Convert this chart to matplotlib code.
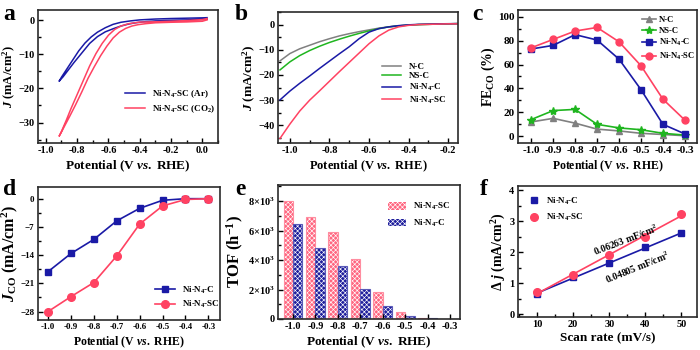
import numpy as np
import matplotlib.pyplot as plt
from matplotlib.ticker import MultipleLocator, FixedLocator

plt.rcParams.update({
    "font.family": "Liberation Serif",
    "font.weight": "bold",
    "axes.labelweight": "bold",
    "mathtext.fontset": "custom",
    "mathtext.rm": "Liberation Serif:bold",
    "mathtext.bf": "Liberation Serif:bold",
    "mathtext.it": "Liberation Serif:italic:bold",
    "mathtext.default": "rm",
    "hatch.linewidth": 0.45,
})

BLUE = "#1a1aa6"
RED = "#ff4262"
GRAY = "#808080"
GREEN = "#1fb51f"

# ---- a: CV loops (Ar / CO2) ----
ar_v = [0.03, 0.0, -0.1, -0.2, -0.3, -0.36, -0.42, -0.47, -0.52, -0.57, -0.62, -0.67, -0.72,
        -0.77, -0.82, -0.86, -0.89, -0.91, -0.915, -0.9, -0.87, -0.83, -0.79, -0.75, -0.71,
        -0.67, -0.62, -0.57, -0.52, -0.46, -0.4, -0.3, -0.2, -0.1, 0.0, 0.03]
ar_j = [0.3, 0.25, 0.1, -0.05, -0.2, -0.4, -0.7, -1.1, -1.7, -2.5, -3.4, -4.8, -6.8,
        -9.6, -12.4, -14.8, -16.6, -17.6, -17.9, -16.7, -14.6, -11.8, -9.0, -6.7, -4.9,
        -3.5, -2.2, -1.2, -0.6, -0.2, 0.1, 0.35, 0.5, 0.6, 0.7, 0.75]
co2_v = [0.03, 0.0, -0.1, -0.2, -0.3, -0.36, -0.41, -0.45, -0.49, -0.53, -0.57, -0.61, -0.65,
         -0.69, -0.73, -0.77, -0.81, -0.85, -0.88, -0.905, -0.915, -0.9, -0.87, -0.84, -0.8,
         -0.76, -0.72, -0.68, -0.64, -0.6, -0.56, -0.52, -0.47, -0.4, -0.3, -0.2, -0.1, 0.0, 0.03]
co2_j = [0.1, -0.3, -0.5, -0.6, -0.75, -1.0, -1.3, -1.7, -2.4, -3.5, -5.2, -7.6, -10.4,
         -13.6, -17.0, -21.0, -24.8, -28.4, -31.0, -33.2, -34.0, -32.6, -29.4, -26.0, -21.8,
         -17.6, -13.4, -9.8, -6.8, -4.4, -2.7, -1.7, -1.0, -0.55, -0.45, -0.3, -0.1, 0.2, 0.5]

# ---- b: LSV ----
lsv_v = [-1.05, -1.0, -0.95, -0.9, -0.85, -0.8, -0.75, -0.7, -0.65, -0.6, -0.55, -0.5,
         -0.45, -0.4, -0.35, -0.3, -0.25, -0.2, -0.15]
lsv_nc = [-14.4, -11.5, -9.6, -8.2, -6.8, -5.6, -4.5, -3.6, -2.8, -2.1, -1.4, -0.9,
          -0.5, -0.2, 0.0, 0.1, 0.2, 0.3, 0.4]
lsv_nsc = [-18.0, -14.8, -12.3, -10.3, -8.6, -7.1, -5.8, -4.6, -3.5, -2.5, -1.6, -0.9,
           -0.5, -0.2, 0.0, 0.1, 0.2, 0.3, 0.4]
lsv_nin4c = [-29.9, -26.4, -23.3, -20.4, -17.4, -14.5, -11.6, -8.8, -5.6, -3.0, -1.6, -0.9,
             -0.4, -0.1, 0.1, 0.2, 0.3, 0.35, 0.4]
lsv_nin4sc = [-45.2, -39.5, -34.3, -30.0, -26.3, -22.5, -18.7, -15.0, -11.3, -7.6, -4.5, -2.2,
              -0.9, -0.3, 0.0, 0.1, 0.2, 0.3, 0.3]

# ---- c, d, e: per-potential data ----
potentials = [-1.0, -0.9, -0.8, -0.7, -0.6, -0.5, -0.4, -0.3]
fe_nc = [12, 15, 11, 6, 4.5, 2.5, 1.5, 0.5]
fe_nsc = [14, 21.5, 22.5, 10, 7, 5.5, 2.5, 1]
fe_nin4c = [73, 76, 85, 80.5, 64.5, 39, 10, 2]
fe_nin4sc = [74, 81, 88, 91, 79, 59, 31, 13.5]

jco_nin4c = [-18.1, -13.6, -10.1, -5.5, -2.4, -0.4, 0.0, 0.0]
jco_nin4sc = [-28.0, -24.3, -20.8, -14.2, -6.3, -1.8, -0.2, 0.0]

tof_nin4sc = [8020, 6940, 5920, 4070, 1810, 500, 90, 20]
tof_nin4c = [6440, 4840, 3590, 2010, 880, 200, 45, 10]

# ---- f: double-layer capacitance ----
scan_rate = [10, 20, 30, 40, 50]
dj_nin4c = [0.65, 1.2, 1.65, 2.15, 2.6]
dj_nin4sc = [0.7, 1.27, 1.9, 2.5, 3.22]

POT_LABEL = r"Potential (V $\mathit{vs.}$ RHE)"
J_LABEL = r"$\mathit{J}$ (mA/cm$^{2}$)"


def box(l, t, r, b):
    return fig.add_axes([l / 700, 1 - b / 350, (r - l) / 700, (b - t) / 350])


def style(ax, fs):
    ax.tick_params(which="both", direction="in", labelsize=fs, width=1.0,
                   top=False, right=False, pad=2.5)
    ax.tick_params(which="major", length=3.5)
    ax.tick_params(which="minor", length=2)
    for s in ax.spines.values():
        s.set_linewidth(1.2)
        s.set_color("#2b2b2b")


fig = plt.figure(figsize=(7, 3.5), dpi=100)

# a
ax = box(38, 10, 218, 143)
ax.plot(ar_v, ar_j, color=BLUE, lw=1.1, label="Ni-N$_4$-SC (Ar)")
ax.plot(co2_v, co2_j, color=RED, lw=1.1, label="Ni-N$_4$-SC (CO$_2$)")
ax.set_xlim(-1.05, 0.1)
ax.set_ylim(-36, 3)
ax.xaxis.set_major_locator(MultipleLocator(0.2))
ax.xaxis.set_minor_locator(MultipleLocator(0.1))
ax.yaxis.set_major_locator(MultipleLocator(10))
ax.yaxis.set_minor_locator(MultipleLocator(5))
ax.xaxis.set_major_formatter(lambda v, p: f"{v:.1f}")
style(ax, 7.5)
ax.set_xlabel(POT_LABEL, fontsize=9.5, labelpad=2)
ax.set_ylabel(J_LABEL, fontsize=9, labelpad=0)
ax.legend(loc="center left", bbox_to_anchor=(0.44, 0.31), frameon=False, fontsize=6.5,
          handlelength=2.2, labelspacing=0.4)

# b
ax = box(278, 12, 458, 143)
ax.plot(lsv_v, lsv_nc, color=GRAY, lw=1.1, label="N-C")
ax.plot(lsv_v, lsv_nsc, color=GREEN, lw=1.1, label="NS-C")
ax.plot(lsv_v, lsv_nin4c, color=BLUE, lw=1.1, label="Ni-N$_4$-C")
ax.plot(lsv_v, lsv_nin4sc, color=RED, lw=1.1, label="Ni-N$_4$-SC")
ax.set_xlim(-1.06, -0.15)
ax.set_ylim(-47, 5)
ax.xaxis.set_major_locator(MultipleLocator(0.2))
ax.xaxis.set_minor_locator(MultipleLocator(0.1))
ax.yaxis.set_major_locator(MultipleLocator(10))
ax.yaxis.set_minor_locator(MultipleLocator(5))
ax.xaxis.set_major_formatter(lambda v, p: f"{v:.1f}")
style(ax, 7.5)
ax.set_xlabel(POT_LABEL, fontsize=9, labelpad=2)
ax.set_ylabel(J_LABEL, fontsize=9.5, labelpad=0)
ax.legend(loc="center left", bbox_to_anchor=(0.53, 0.45), frameon=False, fontsize=6.5,
          handlelength=2.2, labelspacing=0.15)

# c
ax = box(518, 10, 697, 143)
ax.plot(potentials, fe_nc, color=GRAY, lw=1.2, marker="^", ms=4.5, label="N-C")
ax.plot(potentials, fe_nsc, color=GREEN, lw=1.2, marker="*", ms=6, label="NS-C")
ax.plot(potentials, fe_nin4c, color=BLUE, lw=1.2, marker="s", ms=4.5, label="Ni-N$_4$-C")
ax.plot(potentials, fe_nin4sc, color=RED, lw=1.2, marker="o", ms=5, label="Ni-N$_4$-SC")
ax.set_xlim(-1.06, -0.245)
ax.set_ylim(-5.6, 105.6)
ax.xaxis.set_major_locator(FixedLocator(potentials))
ax.yaxis.set_major_locator(MultipleLocator(20))
ax.yaxis.set_minor_locator(MultipleLocator(10))
ax.xaxis.set_major_formatter(lambda v, p: f"{v:.1f}")
style(ax, 8)
ax.set_xlabel(POT_LABEL, fontsize=8.5, labelpad=2)
ax.set_ylabel("FE$_{CO}$ (%)", fontsize=10, labelpad=1)
ax.legend(loc="upper left", bbox_to_anchor=(0.69, 0.955), frameon=False, fontsize=6.2,
          handlelength=1.7, handletextpad=0.35, labelspacing=0.3,
          borderpad=0, borderaxespad=0)

# d
ax = box(38, 187, 220, 320)
ax.plot(potentials, jco_nin4c, color=BLUE, lw=1.2, marker="s", ms=4, label="Ni-N$_4$-C")
ax.plot(potentials, jco_nin4sc, color=RED, lw=1.2, marker="o", ms=5.5, label="Ni-N$_4$-SC")
ax.set_xlim(-1.044, -0.249)
ax.set_ylim(-30.1, 2.9)
ax.xaxis.set_major_locator(FixedLocator(potentials))
ax.yaxis.set_major_locator(MultipleLocator(7))
ax.yaxis.set_minor_locator(MultipleLocator(3.5))
ax.xaxis.set_major_formatter(lambda v, p: f"{v:.1f}")
style(ax, 6.5)
ax.set_xlabel(POT_LABEL, fontsize=8.5, labelpad=2)
ax.set_ylabel(r"$\mathit{J}_{\mathrm{CO}}$ (mA/cm$^{2}$)", fontsize=11.5, labelpad=0)
ax.legend(loc="center left", bbox_to_anchor=(0.6, 0.17), frameon=False, fontsize=6.5,
          handlelength=2.2, labelspacing=0.4)

# e
ax = box(278, 185, 460, 319)
x = np.array(potentials)
w = 0.042
PINK_FACE = "#ff6680"
NAVY_FACE = "#1e1e9c"
b1 = ax.bar(x - w / 2, tof_nin4sc, w, color=PINK_FACE, hatch="xxxxxxx", edgecolor="white",
            linewidth=0, label="Ni-N$_4$-SC")
ax.bar(x - w / 2, tof_nin4sc, w, fill=False, edgecolor="#ff8da0", linewidth=0.8)
b2 = ax.bar(x + w / 2, tof_nin4c, w, color=NAVY_FACE, hatch="xxxxxxx", edgecolor="white",
            linewidth=0, label="Ni-N$_4$-C")
ax.bar(x + w / 2, tof_nin4c, w, fill=False, edgecolor="#5a5ab8", linewidth=0.8)
ax.set_xlim(-1.067, -0.255)
ax.set_ylim(0, 9100)
ax.xaxis.set_major_locator(FixedLocator(potentials))
ax.xaxis.set_major_formatter(lambda v, p: f"{v:.1f}")
ax.yaxis.set_major_locator(FixedLocator([0, 2000, 4000, 6000, 8000]))
ax.yaxis.set_minor_locator(MultipleLocator(1000))
ax.set_yticklabels(["0", r"2$\times$10$^{3}$", r"4$\times$10$^{3}$",
                    r"6$\times$10$^{3}$", r"8$\times$10$^{3}$"])
style(ax, 7.5)
ax.set_xlabel(POT_LABEL, fontsize=9.5, labelpad=2)
ax.set_ylabel("TOF (h$^{-1}$)", fontsize=12, labelpad=1)
ax.legend(handles=[b1, b2], loc="upper left", bbox_to_anchor=(0.56, 0.94), frameon=False,
          fontsize=6.5, handlelength=2.0, handleheight=0.9, labelspacing=0.6)

# f
ax = box(518, 186, 697, 317)
sr = np.array(scan_rate)
for vals, col, mk, ms, lab in [(dj_nin4c, BLUE, "s", 4.5, "Ni-N$_4$-C"),
                               (dj_nin4sc, RED, "o", 5.5, "Ni-N$_4$-SC")]:
    k, c0 = np.polyfit(sr, vals, 1)
    ax.plot(sr, k * sr + c0, color=col, lw=1.2)
    ax.plot(sr, vals, ls="none", marker=mk, ms=ms, color=col, label=lab)
ax.text(34.5, 2.38, "0.06263 mF/cm$^{2}$", rotation=21, fontsize=7,
        ha="center", va="center")
ax.text(37.8, 1.52, "0.04805 mF/cm$^{2}$", rotation=22, fontsize=7,
        ha="center", va="center")
ax.set_xlim(4.7, 54.3)
ax.set_ylim(-0.09, 4.13)
ax.xaxis.set_major_locator(MultipleLocator(10))
ax.xaxis.set_minor_locator(MultipleLocator(5))
ax.yaxis.set_major_locator(MultipleLocator(1))
ax.yaxis.set_minor_locator(MultipleLocator(0.5))
style(ax, 7.5)
ax.set_xlabel("Scan rate (mV/s)", fontsize=9.5, labelpad=2)
ax.set_ylabel(r"$\Delta$ $\mathit{j}$ (mA/cm$^{2}$)", fontsize=10, labelpad=1)
ax.legend(loc="upper left", bbox_to_anchor=(0.02, 0.99), frameon=False, fontsize=6.5,
          handlelength=1.0, labelspacing=0.6)

# panel letters
for letter, px, py in [("a", 3, 20), ("b", 235, 20), ("c", 472, 20),
                       ("d", 3, 195), ("e", 235, 195), ("f", 480, 195)]:
    fig.text(px / 700, 1 - py / 350, letter, fontsize=17, fontweight="bold",
             va="baseline", ha="left")

fig.savefig("out.png", dpi=100)
